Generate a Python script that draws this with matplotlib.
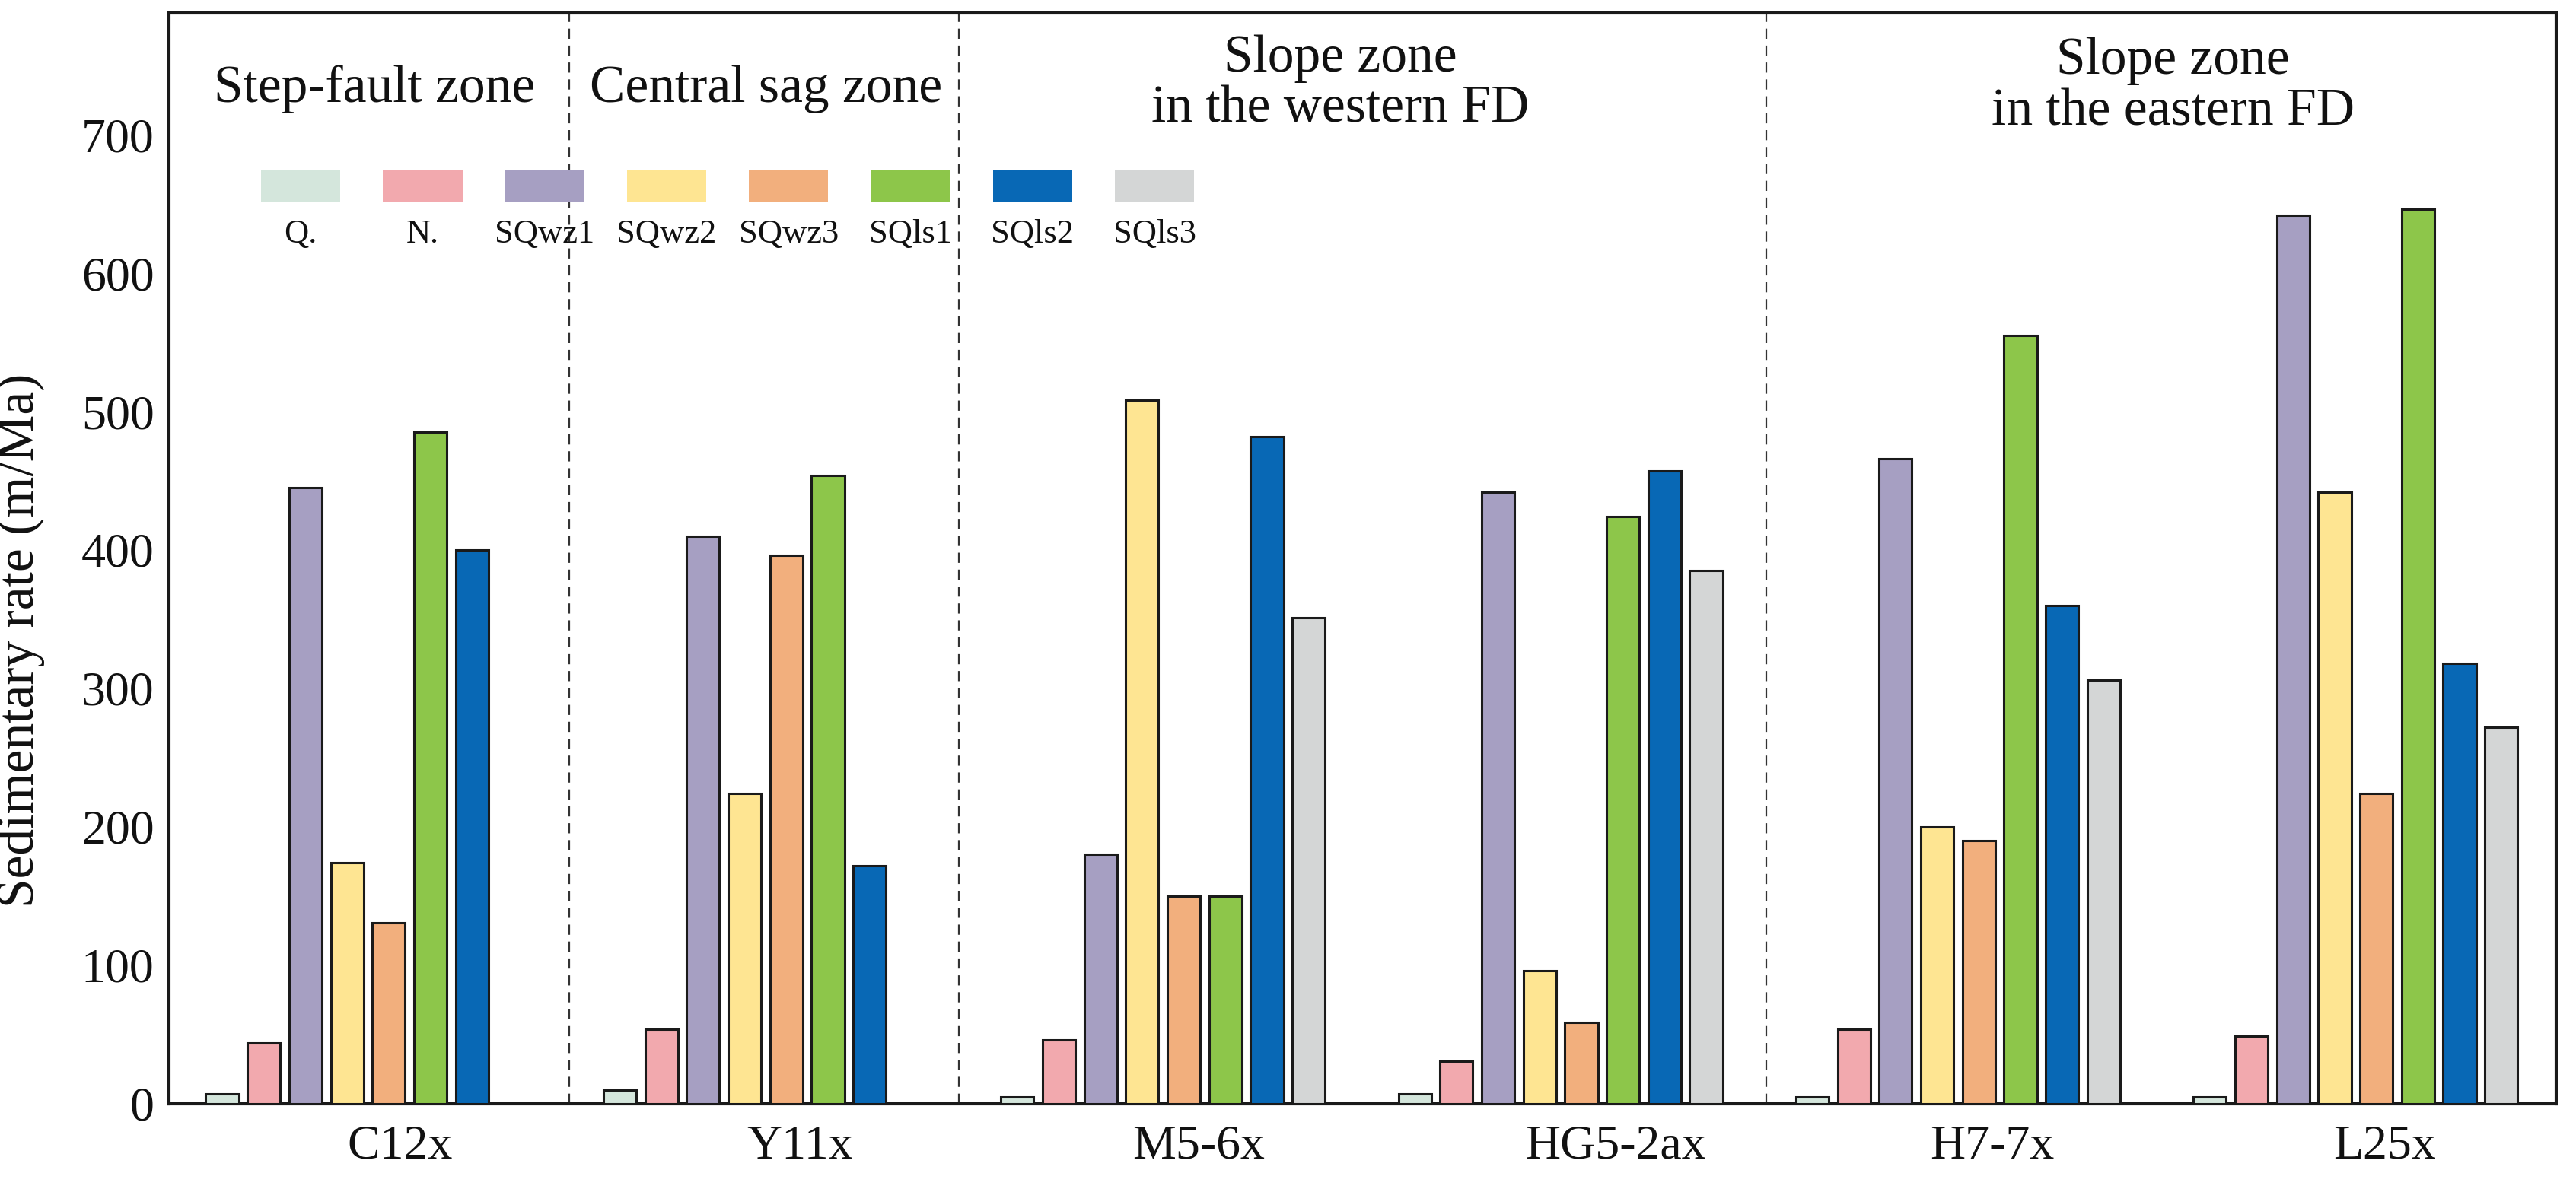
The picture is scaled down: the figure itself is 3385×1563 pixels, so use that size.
import matplotlib
matplotlib.use('Agg')
import matplotlib.pyplot as plt
import matplotlib.transforms as mtransforms
from matplotlib.patches import Rectangle
import numpy as np

plt.rcParams['font.family'] = ['Liberation Serif', 'DejaVu Serif']

# 数据
wells = ['C12x', 'Y11x', 'M5-6x', 'HG5-2ax', 'H7-7x', 'L25x']
units = ['Q.', 'N.', 'SQwz1', 'SQwz2', 'SQwz3', 'SQls1', 'SQls2', 'SQls3']
colors = ['#d4e6dc', '#f2a9ae', '#a69fc2', '#fee592',
          '#f2af7d', '#8dc64a', '#0868b5', '#d4d6d6']

q_vals = [7, 10, 5, 7, 5, 5]
n_vals = [44, 54, 46, 31, 54, 49]
sqwz1_vals = [445, 410, 180, 442, 466, 642]
sqwz2_vals = [174, 224, 508, 96, 200, 442]
sqwz3_vals = [131, 396, 150, 59, 190, 224]
sqls1_vals = [485, 454, 150, 424, 555, 646]
sqls2_vals = [400, 172, 482, 457, 360, 318]
sqls3_vals = [np.nan, np.nan, 351, 385, 306, 272]

zones = ['Step-fault zone', 'Central sag zone',
         'Slope zone\nin the western FD', 'Slope zone\nin the eastern FD']

series = [q_vals, n_vals, sqwz1_vals, sqwz2_vals,
          sqwz3_vals, sqls1_vals, sqls2_vals, sqls3_vals]

# 布局
group_step = 9.55
bar_w = 0.79
label_off = [4.26, 4.33, 4.35, 4.82, 4.32, 4.2]
divider_x = [8.34, 17.7, 37.1]
zone_x = [3.66, 13.07, 26.86, 46.86]

fig = plt.figure(figsize=(33.85, 15.63), dpi=100)
ax = fig.add_axes([0.0656, 0.0717, 0.9267, 0.9175])

gx = np.arange(len(wells)) * group_step
for j, (vals, c) in enumerate(zip(series, colors)):
    ax.bar(gx + j, vals, width=bar_w, color=c, edgecolor='#1a1a1a',
           linewidth=2.2, zorder=3)

for x in divider_x:
    ax.axvline(x, color='#333333', linestyle=(0, (6, 4)), linewidth=1.6, zorder=2)

ax.set_xlim(-1.28, 56.07)
ax.set_ylim(0, 788)
ax.set_yticks(np.arange(0, 701, 100))
ax.set_xticks(gx + np.array(label_off))
ax.set_xticklabels(wells)
ax.tick_params(axis='both', length=0, labelsize=46, colors='#111111')
ax.tick_params(axis='y', pad=14)
ax.tick_params(axis='x', pad=20)

for s in ax.spines.values():
    s.set_linewidth(3.0)
    s.set_color('#1a1a1a')

ax.set_ylabel('Sedimentary rate (m/Ma)', fontsize=50, color='#111111')
ax.yaxis.set_label_coords(-0.052, 0.425)

trans = mtransforms.blended_transform_factory(ax.transData, ax.transAxes)
# 分区标注
ax.text(zone_x[0], 0.930, zones[0], transform=trans, ha='center', va='center',
        fontsize=50, color='#111111')
ax.text(zone_x[1], 0.930, zones[1], transform=trans, ha='center', va='center',
        fontsize=50, color='#111111')
for k, yy in zip([2, 3], [(0.958, 0.912), (0.956, 0.909)]):
    line1, line2 = zones[k].split('\n')
    ax.text(zone_x[k], yy[0], line1, transform=trans, ha='center', va='center',
            fontsize=50, color='#111111')
    ax.text(zone_x[k], yy[1], line2, transform=trans, ha='center', va='center',
            fontsize=50, color='#111111')

# 图例
lx0, lw, lstep = 0.0386, 0.0332, 0.0511
for j, (name, c) in enumerate(zip(units, colors)):
    x0 = lx0 + j * lstep
    ax.add_patch(Rectangle((x0, 0.827), lw, 0.0293, transform=ax.transAxes,
                           facecolor=c, edgecolor='none', zorder=4))
    ax.text(x0 + lw / 2, 0.797, name, transform=ax.transAxes, ha='center',
            va='center', fontsize=32, color='#111111')

fig.savefig('out.png', dpi=100)
